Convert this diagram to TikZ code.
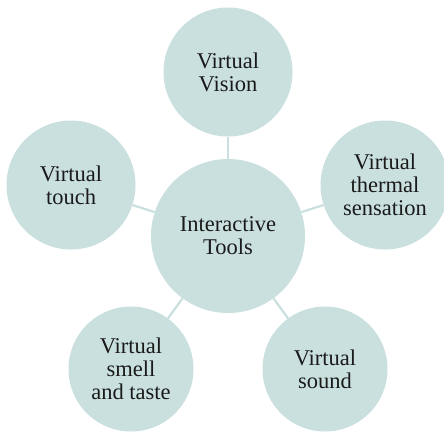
\documentclass[tikz,border=0pt]{standalone}
\usepackage{fontspec}
\setmainfont{Liberation Serif}
\definecolor{bub}{RGB}{201,224,222}
\definecolor{txt}{RGB}{26,26,26}
\begin{document}
\begin{tikzpicture}[x=1pt,y=-1pt,
  bubble/.style={circle,fill=bub,draw=none,inner sep=0pt,minimum size=#1,
    align=center,text=txt,font=\fontsize{22.5}{23}\selectfont},
  link/.style={draw=bub,line width=2.2pt}]
\useasboundingbox (0,0) rectangle (444,432);
\node[bubble=154pt] (c) at (228,236) {Interactive\\Tools};
\node[bubble=129pt] (top) at (228,72) {Virtual\\Vision};
\node[bubble=129pt] (left) at (71,185) {Virtual\\touch};
\node[bubble=129pt] (right) at (385,185) {Virtual\\thermal\\sensation};
\node[bubble=125pt] (bl) at (131,369) {Virtual\\smell\\and taste};
\node[bubble=125pt] (br) at (325,369) {Virtual\\sound};
\draw[link] (c) -- (top);
\draw[link] (c) -- (left);
\draw[link] (c) -- (right);
\draw[link] (c) -- (bl);
\draw[link] (c) -- (br);
\end{tikzpicture}
\end{document}
